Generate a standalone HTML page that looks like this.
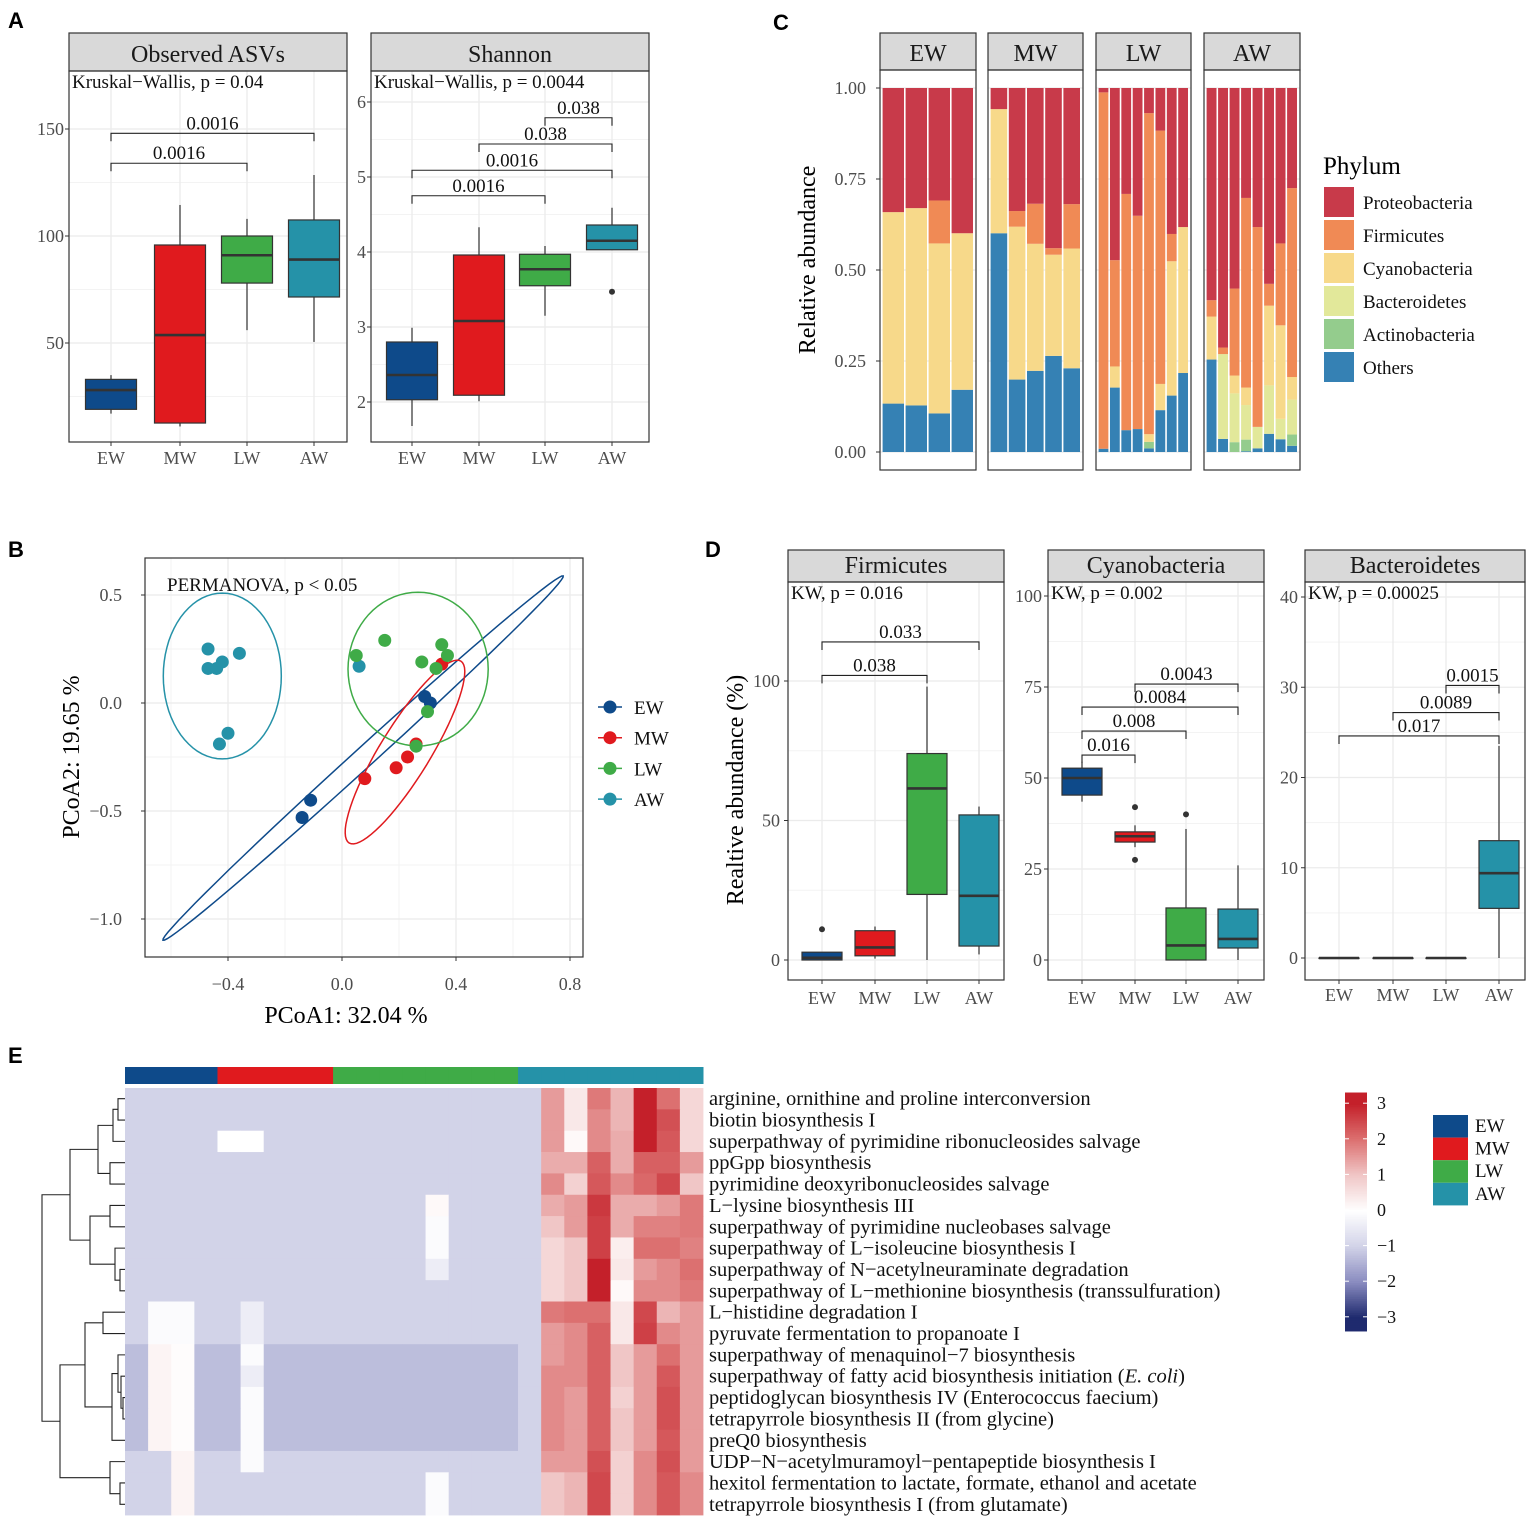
<!DOCTYPE html>
<html><head><meta charset="utf-8">
<style>
html,body{margin:0;padding:0;background:#fff;}
svg{display:block;font-family:"Liberation Serif","DejaVu Serif",serif;}
</style></head>
<body>
<svg id="fig" width="1535" height="1521" viewBox="0 0 1535 1521" xmlns="http://www.w3.org/2000/svg"></svg>
<script>
// ---------------- DATA ----------------
const groups = ["EW","MW","LW","AW"];
const groupColors = ["#0e4a8a","#e01a1e","#3fab47","#2592a8"];
// Panel A: boxplot stats [lo, q1, median, q3, hi]
const asvStats = [[17,19,28,33,35],[11,12.6,53.7,95.8,114.5],[56,78,91,100,108],[50.5,71.5,89,107.5,128.5]];
const asvOutliers = [[],[],[],[]];
const asvTicks = [50,100,150];
const shannonStats = [[1.68,2.03,2.36,2.8,2.99],[2.01,2.09,3.08,3.96,4.33],[3.15,3.55,3.77,3.97,4.08],[4.03,4.03,4.15,4.36,4.59]];
const shannonOutliers = [[],[],[],[3.47]];
const shannonTicks = [2,3,4,5,6];
const asvBrackets = [[0,2,134,"0.0016"],[0,3,148,"0.0016"]];
const shannonBrackets = [[0,2,4.75,"0.0016"],[0,3,5.09,"0.0016"],[1,3,5.44,"0.038"],[2,3,5.79,"0.038"]];
// Panel B: PCoA points
const pcoaEW = [[0.29,0.03],[0.31,0.0],[-0.11,-0.45],[-0.14,-0.53]];
const pcoaMW = [[0.35,0.18],[0.08,-0.35],[0.19,-0.30],[0.23,-0.25],[0.26,-0.19]];
const pcoaLW = [[0.05,0.22],[0.15,0.29],[0.35,0.27],[0.37,0.22],[0.28,0.19],[0.33,0.16],[0.30,-0.04],[0.26,-0.20]];
const pcoaAW = [[-0.47,0.25],[-0.47,0.16],[-0.44,0.16],[-0.42,0.19],[-0.36,0.23],[-0.43,-0.19],[-0.40,-0.14],[0.06,0.17]];
// ellipses: [cx, cy, ax, ay, bx, by] (data units)
const ellipseEW = [0.074,-0.255,0.702,0.843,0.0236,-0.0343];
const ellipseMW = [0.221,-0.227,0.196,0.421,0.075,-0.061];
const ellipseLW = [0.267,0.157,0.246,0,0,0.356];
const ellipseAW = [-0.42,0.125,0.207,0,0,0.384];
const pcoaXTicks = [-0.4,0.0,0.4,0.8];
const pcoaYTicks = [0.5,0.0,-0.5,-1.0];
// Panel C: phyla composition per sample, bottom->top: Others, Actinobacteria, Bacteroidetes, Cyanobacteria, Firmicutes, Proteobacteria
const phylaNames = ["Others","Actinobacteria","Bacteroidetes","Cyanobacteria","Firmicutes","Proteobacteria"];
const phylaColors = ["#3581b4","#94cc8d","#e2e89a","#f7d98a","#f08a55","#c83a4a"];
const compEW = [[.133,0,0,.526,0,.341],[.128,0,0,.542,0,.330],[.106,0,0,.467,.118,.309],[.171,0,0,.430,0,.399]];
const compMW = [[.601,0,0,.341,0,.058],[.199,0,0,.420,.043,.338],[.223,0,0,.349,.110,.318],[.264,0,0,.278,.018,.440],[.230,0,0,.329,.122,.319]];
const compLW = [[.009,0,0,0,.979,.012],[.177,0,0,.058,.292,.473],[.060,0,0,0,.649,.291],[.063,0,0,0,.586,.351],[.010,.018,0,.021,.882,.069],[.115,0,0,.072,.696,.117],[.155,0,0,.369,.075,.401],[.217,0,0,.401,0,.382]];
const compAW = [[.254,0,0,.118,.045,.583],[.036,0,.233,0,.018,.713],[0,.027,.134,.049,.239,.551],[.002,.032,.095,.048,.521,.302],[.010,0,.059,0,.549,.382],[.050,0,.133,.219,.060,.538],[.035,0,.056,.257,.225,.427],[.017,.031,.096,.062,.519,.275]];
const compTicks = [0,0.25,0.5,0.75,1.0];
const compTickLabels = ["0.00","0.25","0.50","0.75","1.00"];
// Panel D
const firmStats = [[0,0,0.8,2.8,2.8],[0.5,1.5,4.5,10.5,12],[0,23.5,61.5,74,98],[2,5,23,52,55]];
const firmOutliers = [[11],[],[],[]];
const firmTicks = [0,50,100];
const firmBrackets = [[0,2,102,"0.038"],[0,3,114,"0.033"]];
const cyanoStats = [[43.5,45.3,50,52.7,54.5],[31,32.4,34,35.2,37],[0,0,4,14.3,36],[0,3.3,5.8,14,26]];
const cyanoOutliers = [[],[27.5,42],[40],[]];
const cyanoTicks = [0,25,50,75,100];
const cyanoBrackets = [[0,1,56.3,"0.016"],[0,2,62.9,"0.008"],[0,3,69.5,"0.0084"],[1,3,75.8,"0.0043"]];
const bactStats = [[0,0,0,0,0],[0,0,0,0,0],[0,0,0,0,0],[0,5.5,9.4,13.0,23.5]];
const bactOutliers = [[],[],[],[]];
const bactTicks = [0,10,20,30,40];
const bactBrackets = [[0,3,24.6,"0.017"],[1,3,27.2,"0.0089"],[2,3,30.2,"0.0015"]];
// Panel E heatmap
const pathways = ["arginine, ornithine and proline interconversion","biotin biosynthesis I","superpathway of pyrimidine ribonucleosides salvage","ppGpp biosynthesis","pyrimidine deoxyribonucleosides salvage","L\u2212lysine biosynthesis III","superpathway of pyrimidine nucleobases salvage","superpathway of L\u2212isoleucine biosynthesis I","superpathway of N\u2212acetylneuraminate degradation","superpathway of L\u2212methionine biosynthesis (transsulfuration)","L\u2212histidine degradation I","pyruvate fermentation to propanoate I","superpathway of menaquinol\u22127 biosynthesis","superpathway of fatty acid biosynthesis initiation (E. coli)","peptidoglycan biosynthesis IV (Enterococcus faecium)","tetrapyrrole biosynthesis II (from glycine)","preQ0 biosynthesis","UDP\u2212N\u2212acetylmuramoyl\u2212pentapeptide biosynthesis I","hexitol fermentation to lactate, formate, ethanol and acetate","tetrapyrrole biosynthesis I (from glutamate)"];
const sampleGroups = [0,0,0,0,1,1,1,1,1,2,2,2,2,2,2,2,2,3,3,3,3,3,3,3,3];
const awRed = [
[1.5,0.4,1.9,1.2,3.0,2.0,0.7],[1.5,0.4,1.7,1.2,3.0,2.4,0.7],[1.5,0.1,1.7,1.3,3.0,2.3,0.7],[1.3,1.3,2.2,1.3,2.2,2.2,1.5],
[1.7,0.8,2.3,1.7,2.1,2.5,1.0],[1.3,1.5,2.7,1.3,1.3,1.5,1.9],[1.0,1.5,2.6,1.3,1.8,1.8,1.9],[0.7,1.0,2.6,0.3,2.0,2.0,1.8],
[0.7,1.0,3.0,0.4,1.5,1.7,2.0],[0.7,1.0,3.0,0.1,1.7,1.7,1.9],[1.9,2.0,2.0,0.4,2.5,1.2,1.5],[1.5,1.7,2.2,0.4,2.6,1.7,1.5],
[1.5,1.7,2.2,1.0,1.5,2.0,1.5],[1.7,1.7,2.2,1.0,1.5,2.3,1.5],[1.7,1.5,2.2,0.8,1.5,2.4,1.5],[1.7,1.5,2.2,1.0,1.5,2.4,1.5],
[1.7,1.5,2.2,1.0,1.5,2.3,1.5],[1.5,1.5,2.4,0.8,1.7,2.4,1.5],[1.0,1.2,2.5,0.8,1.7,2.3,1.7],[1.0,1.2,2.5,0.8,1.7,2.3,1.7]];
// exceptions in non-AW part: [row, col, value]
const heatSpecial = [[2,4,0],[2,5,0],[5,13,0.1],[6,13,-0.1],[7,13,-0.1],[8,13,-0.4],[18,13,-0.1],[19,13,-0.1],
[10,1,-0.1],[10,2,-0.1],[11,1,-0.1],[11,2,-0.1],[12,1,0.2],[13,1,0.2],[14,1,0.2],[15,1,0.2],[16,1,0.2],
[12,2,0.05],[13,2,0.05],[14,2,0.05],[15,2,0.05],[16,2,0.05],[17,2,0.2],[18,2,0.2],[19,2,0.2],
[10,5,-0.4],[11,5,-0.4],[12,5,-0.1],[13,5,-0.4],[14,5,-0.1],[15,5,-0.1],[16,5,-0.1],[17,5,-0.1]];
const darkRows = [12,13,14,15,16];
const colorbarTicks = [3,2,1,0,-1,-2,-3];
// dendrogram: [height(px x), left, right] or leaf index
const dendro = [42,[70,[98,[113,[118,0,1],2],[110,3,4]],[90,[110,5,6],[115,7,[120,8,9]]]],[60,[85,[103,10,11],[112,[118,12,[121,13,[123,14,15]]],16]],[110,17,[120,18,19]]]];

// ---------------- HELPERS ----------------
const NS="http://www.w3.org/2000/svg";
const svg=document.getElementById('fig');
function mk(tag,attrs,parent){const e=document.createElementNS(NS,tag);for(const k in attrs)e.setAttribute(k,attrs[k]);(parent||svg).appendChild(e);return e;}
function lin(d0,d1,r0,r1){return v=>r0+(v-d0)*(r1-r0)/(d1-d0);}
function txt(s,x,y,size,anchor,parent,fill,extra){const t=mk('text',Object.assign({x:x,y:y,'font-size':size,'text-anchor':anchor||'start',fill:fill||'#000'},extra||{}),parent);t.textContent=s;return t;}
function grp(name){const g=mk('g',{});

return g;}

// panel letters
[["A",8,28],["B",8,557],["C",773,30],["D",705,557],["E",8,1063]].forEach(p=>{
 const t=txt(p[0],p[1],p[2],22,'start',svg,'#000',{'font-family':'Liberation Sans, sans-serif','font-weight':'bold'});
 
 
});

// ------- boxplot panel -------
function boxPanel(name,px0,px1,py0,py1,stripTop,title,sub,yScale,ticks,minorTicks,xPos,bw,stats,outl,brackets,labelX,xlabY){
 const g=grp(name);
 mk('rect',{x:px0,y:py0,width:px1-px0,height:py1-py0,fill:'#fff'},g);
 minorTicks.forEach(v=>{mk('line',{x1:px0,x2:px1,y1:yScale(v),y2:yScale(v),stroke:'#f3f3f3','stroke-width':1},g);});
 ticks.forEach(v=>{const l=mk('line',{x1:px0,x2:px1,y1:yScale(v),y2:yScale(v),stroke:'#ebebeb','stroke-width':1.3},g);
  
  });
 xPos.forEach(x=>{mk('line',{x1:x,x2:x,y1:py0,y2:py1,stroke:'#ebebeb','stroke-width':1.3},g);});
 const s=mk('rect',{x:px0,y:stripTop,width:px1-px0,height:py0-stripTop,fill:'#d9d9d9',stroke:'#333','stroke-width':1.2},g);
 
 
 const st=txt(title,(px0+px1)/2,py0-9,24,'middle',g,'#1a1a1a');
 
 
 stats.forEach((s,i)=>{
  const x=xPos[i],c=groupColors[i];
  const b=grp('box-'+groups[i]);g.appendChild(b);
  mk('line',{x1:x,x2:x,y1:yScale(s[4]),y2:yScale(s[3]),stroke:'#333','stroke-width':1.2},b);
  mk('line',{x1:x,x2:x,y1:yScale(s[1]),y2:yScale(s[0]),stroke:'#333','stroke-width':1.2},b);
  const r=mk('rect',{x:x-bw/2,y:yScale(s[3]),width:bw,height:Math.max(0.5,yScale(s[1])-yScale(s[3])),fill:c,stroke:'#333','stroke-width':1.2},b);
  
  
  mk('line',{x1:x-bw/2,x2:x+bw/2,y1:yScale(s[2]),y2:yScale(s[2]),stroke:'#333','stroke-width':2.6},b);
  outl[i].forEach(v=>{const o=mk('circle',{cx:x,cy:yScale(v),r:3,fill:'#333'},b);
   
   });
 });
 brackets.forEach(br=>{
  const xa=xPos[br[0]],xb=xPos[br[1]],y=yScale(br[2]);
  const p=mk('path',{d:`M${xa},${y+8}V${y}H${xb}V${y+8}`,fill:'none',stroke:'#222','stroke-width':1.1},g);
  
  
  txt(br[3],(xa+xb)/2,y-4,19,'middle',g,'#111');
 });
 mk('rect',{x:px0,y:py0,width:px1-px0,height:py1-py0,fill:'none',stroke:'#333','stroke-width':1.2},g);
 const kw=txt(sub,px0+3,py0+17,19,'start',g,'#111');
 
 
 ticks.forEach(v=>{const y=yScale(v);if(y<py0-1||y>py1+1)return;
  mk('line',{x1:px0-4,x2:px0,y1:y,y2:y,stroke:'#333'},g);
  txt(String(v),labelX,y+6,18,'end',g,'#4d4d4d');});
 xPos.forEach((x,i)=>{mk('line',{x1:x,x2:x,y1:py1,y2:py1+4,stroke:'#333'},g);
  const t=txt(groups[i],x,xlabY,18,'middle',g,'#4d4d4d');
  
  });
 return g;
}

boxPanel('observed-asvs-panel',69,347,71,442,33,'Observed ASVs','Kruskal\u2212Wallis, p = 0.04',lin(0,100,450,236),asvTicks,[25,75,125],[111,180,247,314],51,asvStats,asvOutliers,asvBrackets,64,464);
boxPanel('shannon-panel',371,649,71,442,33,'Shannon','Kruskal\u2212Wallis, p = 0.0044',lin(2,6,402,102),shannonTicks,[2.5,3.5,4.5,5.5],[412,479,545,612],51,shannonStats,shannonOutliers,shannonBrackets,366,464);

boxPanel('firmicutes-panel',788,1004,582,980,550,'Firmicutes','KW, p = 0.016',lin(0,100,960,681),firmTicks,[25,75],[822,875,927,979],40,firmStats,firmOutliers,firmBrackets,780,1004);
boxPanel('cyanobacteria-panel',1048,1264,582,980,550,'Cyanobacteria','KW, p = 0.002',lin(0,100,960,596),cyanoTicks,[12.5,37.5,62.5,87.5],[1082,1135,1186,1238],40,cyanoStats,cyanoOutliers,cyanoBrackets,1042,1004);
boxPanel('bacteroidetes-panel',1305,1525,582,980,550,'Bacteroidetes','KW, p = 0.00025',lin(0,40,958,597),bactTicks,[5,15,25,35],[1339,1393,1446,1499],40,bactStats,bactOutliers,bactBrackets,1298,1001);
(function(){const t=txt('Realtive abundance (%)',0,0,24,'middle',svg,'#000',{transform:'translate(743,790) rotate(-90)'});
 
 })();

// Panel B: PCoA
(function(){
 const g=grp('pcoa-panel');
 const x0=145,x1=583,y0=558,y1=957;
 const X=lin(0,0.4,342,456),Y=lin(0,0.5,703,595);
 mk('rect',{x:x0,y:y0,width:x1-x0,height:y1-y0,fill:'#fff'},g);
 [-0.6,-0.2,0.2,0.6].forEach(v=>mk('line',{x1:X(v),x2:X(v),y1:y0,y2:y1,stroke:'#f3f3f3'},g));
 [0.25,-0.25,-0.75].forEach(v=>mk('line',{x1:x0,x2:x1,y1:Y(v),y2:Y(v),stroke:'#f3f3f3'},g));
 pcoaXTicks.forEach(v=>{mk('line',{x1:X(v),x2:X(v),y1:y0,y2:y1,stroke:'#ebebeb','stroke-width':1.3},g);
  mk('line',{x1:X(v),x2:X(v),y1:y1,y2:y1+4,stroke:'#333'},g);
  txt(v.toFixed(1).replace('-','\u2212'),X(v),y1+33,18,'middle',g,'#4d4d4d');});
 pcoaYTicks.forEach(v=>{mk('line',{x1:x0,x2:x1,y1:Y(v),y2:Y(v),stroke:'#ebebeb','stroke-width':1.3},g);
  mk('line',{x1:x0-4,x2:x0,y1:Y(v),y2:Y(v),stroke:'#333'},g);
  txt(v.toFixed(1).replace('-','\u2212'),122,Y(v)+6,18,'end',g,'#4d4d4d');});
 const ells=[ellipseEW,ellipseMW,ellipseLW,ellipseAW];
 ells.forEach((e,i)=>{let d='';for(let k=0;k<=72;k++){const t=k/72*2*Math.PI;
   const px=X(e[0]+e[2]*Math.cos(t)+e[4]*Math.sin(t)),py=Y(e[1]+e[3]*Math.cos(t)+e[5]*Math.sin(t));
   d+=(k?'L':'M')+px.toFixed(1)+','+py.toFixed(1);}
  const p=mk('path',{d:d+'Z',fill:'none',stroke:groupColors[i],'stroke-width':1.5},g);
  
  });
 const pts=[pcoaEW,pcoaMW,pcoaLW,pcoaAW];
 [3,0,1,2].forEach(i=>{pts[i].forEach(pt=>{const c=mk('circle',{cx:X(pt[0]),cy:Y(pt[1]),r:6.5,fill:groupColors[i]},g);
  
  });});
 mk('rect',{x:x0,y:y0,width:x1-x0,height:y1-y0,fill:'none',stroke:'#333','stroke-width':1.2},g);
 txt('PERMANOVA, p < 0.05',167,591,19,'start',g,'#111');
 const xt=txt('PCoA1:  32.04 %',346,1023,24,'middle',g,'#000',{'xml:space':'preserve'});
 
 
 const yt=txt('PCoA2:  19.65 %',0,0,24,'middle',g,'#000',{transform:'translate(79,757) rotate(-90)','xml:space':'preserve'});
 
 
 groups.forEach((gname,i)=>{const y=707+i*30.7;
  const le=grp('legend-entry-'+gname);g.appendChild(le);
  mk('line',{x1:598,x2:622,y1:y,y2:y,stroke:groupColors[i],'stroke-width':1.5},le);
  mk('circle',{cx:610,cy:y,r:6.5,fill:groupColors[i]},le);
  txt(gname,634,y+7,19,'start',le,'#111');});
})();

// Panel C: stacked bars
(function(){
 const g=grp('composition-panel');
 const Y=lin(0,1,452,88);
 const facets=[[880,976,compEW],[988,1083,compMW],[1096,1191,compLW],[1204,1300,compAW]];
 facets.forEach((f,fi)=>{
  const [a,b,data]=f;
  const fg=grp('facet-'+groups[fi]);g.appendChild(fg);
  mk('rect',{x:a,y:70,width:b-a,height:400,fill:'#fff'},fg);
  compTicks.forEach(v=>mk('line',{x1:a,x2:b,y1:Y(v),y2:Y(v),stroke:'#ebebeb','stroke-width':1.2},fg));
  const s=mk('rect',{x:a,y:33,width:b-a,height:37,fill:'#d9d9d9',stroke:'#333','stroke-width':1.2},fg);
  
  
  txt(groups[fi],(a+b)/2,61,24,'middle',fg,'#1a1a1a');
  const slot=(b-a-4)/data.length;
  data.forEach((row,si)=>{let cum=0;
   const x=a+2+si*slot;
   row.forEach((v,k)=>{const top=(k===row.length-1)?1:cum+v;
    if(top-cum>0.0005){const r=mk('rect',{x:x+0.6,y:Y(top),width:slot-1.6,height:Y(cum)-Y(top),fill:phylaColors[k]},fg);
     
     }
    cum=top;});
  });
  mk('rect',{x:a,y:70,width:b-a,height:400,fill:'none',stroke:'#333','stroke-width':1.2},fg);
 });
 compTicks.forEach((v,i)=>{mk('line',{x1:876,x2:880,y1:Y(v),y2:Y(v),stroke:'#333'},g);
  txt(compTickLabels[i],866,Y(v)+6,18,'end',g,'#4d4d4d');});
 const yt=txt('Relative abundance',0,0,24,'middle',svg,'#000',{transform:'translate(815,260) rotate(-90)'});
 
 
 txt('Phylum',1323,174,25,'start',g,'#000');
 for(let k=5;k>=0;k--){const i=5-k;const y=187+i*33;
  const le=grp('legend-entry-'+phylaNames[k].toLowerCase());g.appendChild(le);
  mk('rect',{x:1324,y:y,width:30,height:30,fill:phylaColors[k]},le);
  txt(phylaNames[k],1363,y+22,19,'start',le,'#111');}
})();

// Panel E: heatmap
(function(){
 const g=grp('heatmap-panel');
 const hx0=125,hx1=703,hy0=1088,hy1=1515;
 const ncol=sampleGroups.length,nrow=pathways.length;
 const cw=(hx1-hx0)/ncol,rh=(hy1-hy0)/nrow;
 function mix(c1,c2,t){return 'rgb('+[0,1,2].map(i=>Math.round(c1[i]+(c2[i]-c1[i])*t)).join(',')+')';}
 const pos=[[255,255,255],[240,198,198],[220,112,112],[196,32,42]];
 const neg=[[255,255,255],[210,211,232],[138,140,192],[31,42,110]];
 function col(v){const a=Math.min(3,Math.abs(v)),s=v>=0?pos:neg;const i=Math.min(2,Math.floor(a));return mix(s[i],s[i+1],a-i);}
 sampleGroups.forEach((gi,c)=>{const r=mk('rect',{x:hx0+c*cw,y:1067,width:cw+0.5,height:17,fill:groupColors[gi]},g);
  
  });
 const vals=[];
 for(let r=0;r<nrow;r++){vals.push([]);for(let c=0;c<ncol;c++){
  let v=-1; if(darkRows.includes(r)&&c<17)v=-1.3;
  if(c>=18)v=awRed[r][c-18]; vals[r].push(v);}}
 heatSpecial.forEach(s=>{vals[s[0]][s[1]]=s[2];});
 for(let r=0;r<nrow;r++)for(let c=0;c<ncol;c++){
  const cell=mk('rect',{x:hx0+c*cw,y:hy0+r*rh,width:cw+0.4,height:rh+0.4,fill:col(vals[r][c])},g);
  
  }
 pathways.forEach((p,r)=>{const y=hy0+(r+0.5)*rh+6.5;
  const t=mk('text',{x:709,y:y,'font-size':20.5,fill:'#111'},g);
  if(p.indexOf('(E. coli)')>=0){t.textContent=p.replace('(E. coli)','(');const it=mk('tspan',{'font-style':'italic'},t);it.textContent='E. coli';const t2=mk('tspan',{},t);t2.textContent=')';}
  else t.textContent=p;
  
  });
 let d='';
 function walk(n){if(typeof n==='number')return [125,hy0+(n+0.5)*rh];
  const a=walk(n[1]),b=walk(n[2]),h=n[0];
  d+=`M${a[0]},${a[1]}H${h}V${b[1]}H${b[0]}`;return [h,(a[1]+b[1])/2];}
 walk(dendro);
 const dp=mk('path',{d:d,fill:'none',stroke:'#222','stroke-width':1.1},g);
 
 
 const CY=lin(0,1,1210,1174.4);
 const cb=grp('colorbar');g.appendChild(cb);
 for(let v=3.3;v>-3.35;v-=0.05){mk('rect',{x:1345,y:CY(v),width:22,height:2.2,fill:col(v)},cb);}
 colorbarTicks.forEach(v=>{mk('line',{x1:1345,x2:1349,y1:CY(v),y2:CY(v),stroke:'#fff'},cb);
  mk('line',{x1:1363,x2:1367,y1:CY(v),y2:CY(v),stroke:'#fff'},cb);
  txt(String(v).replace('-','\u2212'),1377,CY(v)+6,18,'start',cb,'#111');});
 groups.forEach((gn,i)=>{const le=grp('heatmap-legend-'+gn);g.appendChild(le);
  mk('rect',{x:1433,y:1115+i*22.6,width:35,height:22.6,fill:groupColors[i]},le);
  txt(gn,1475,1132+i*22.6,19,'start',le,'#111');});
})();
</script>
</body></html>
